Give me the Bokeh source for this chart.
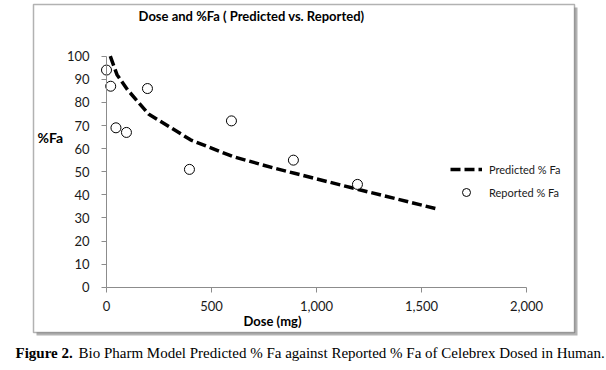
from bokeh.plotting import figure
from bokeh.models import (Range1d, Label, BoxAnnotation, Legend, LegendItem,
                          FixedTicker, NumeralTickFormatter, ColumnDataSource)
from bokeh.embed import file_html
from bokeh.resources import INLINE

# ---- data ----
pred_dose = [18, 50, 100, 200, 400, 600, 800, 900, 1200, 1578]
pred_fa = [100, 92, 85.5, 75, 63.8, 56.6, 51.5, 49.2, 42.3, 33.8]
rep_dose = [0, 20, 45, 95, 195, 395, 595, 890, 1195]
rep_fa = [94, 87, 69, 67, 86, 51, 72, 55, 44.5]
x_ticks = [0, 500, 1000, 1500, 2000]
y_ticks = [0, 10, 20, 30, 40, 50, 60, 70, 80, 90, 100]

W, H = 606, 370
FONT = "Lato"

# pixel layout of the plot area (page px)
X0, XPX = 106.0, 0.21      # x=0 at px 106, px per mg
Y0, YPX = 286.7, 2.31      # y=0 at px 286.7, px per unit


def X(px):
    return (px - X0) / XPX


def Y(py):
    return (Y0 - py) / YPX


p = figure(width=W, height=H, output_backend="svg", toolbar_location=None,
           x_range=Range1d(X(0), X(W)), y_range=Range1d(Y(H), Y(0)),
           min_border=0)
p.outline_line_color = None
p.xgrid.visible = False
p.ygrid.visible = False
p.background_fill_color = "white"
p.border_fill_color = "white"

# chart-area border with shadow
shadow = BoxAnnotation(left=X(36), right=X(577), top=Y(7), bottom=Y(335),
                       fill_color="#9a9a9a", fill_alpha=0.75, line_color=None,
                       level="underlay")
box = BoxAnnotation(left=X(33), right=X(574), top=Y(4), bottom=Y(332),
                    fill_color="white", fill_alpha=1.0, line_color="black",
                    line_width=1.5, level="underlay")
p.add_layout(shadow)
p.add_layout(box)

src_p = ColumnDataSource(dict(x=pred_dose, y=pred_fa))
src_r = ColumnDataSource(dict(x=rep_dose, y=rep_fa))
r_line = p.line("x", "y", source=src_p, line_color="black", line_width=3.5,
                line_dash="10 4")
r_pts = p.scatter("x", "y", source=src_r, marker="circle", size=10,
                  fill_color="white", line_color="black", line_width=1)

for ax in (p.xaxis[0], p.yaxis[0]):
    ax.fixed_location = 0
    ax.axis_line_color = "#8c8c8c"
    ax.major_tick_line_color = "#8c8c8c"
    ax.major_tick_in = 0
    ax.major_tick_out = 5
    ax.minor_tick_line_color = None
    ax.major_label_text_font = FONT
    ax.major_label_text_font_size = "13px"
    ax.major_label_text_color = "#1a1a1a"

p.xaxis.bounds = (0, 2000)
p.yaxis.bounds = (0, 100)
p.xaxis.ticker = FixedTicker(ticks=x_ticks)
p.xaxis.formatter = NumeralTickFormatter(format="0,0")
p.xaxis.major_label_standoff = 9
p.yaxis.ticker = FixedTicker(ticks=y_ticks)
p.yaxis.major_label_standoff = 12

legend = Legend(items=[LegendItem(label="Predicted % Fa", renderers=[r_line]),
                       LegendItem(label="Reported % Fa", renderers=[r_pts])],
                location=(450, 168), glyph_width=32, glyph_height=20,
                label_height=20, spacing=3, padding=0, margin=0,
                label_standoff=7, background_fill_alpha=0,
                border_line_color=None, label_text_font=FONT,
                label_text_font_size="11px", label_text_color="#1a1a1a")
p.add_layout(legend, "center")


def lab(text, px, py, size, bold=False, align="center", font=FONT, color="black"):
    p.add_layout(Label(text=text, x=X(px), y=Y(py),
                       text_font=font, text_font_size=size,
                       text_font_style="bold" if bold else "normal",
                       text_align=align, text_baseline="middle",
                       text_color=color))


lab("Dose and %Fa ( Predicted vs. Reported)", 251, 15, "13px", bold=True)
lab("%Fa", 37, 137, "14px", bold=True, align="left")
lab("Dose (mg)", 272, 320, "13px", bold=True)
lab("Figure 2.", 15, 352, "15px", bold=True, align="left", font="Liberation Serif")
lab("Bio Pharm Model Predicted % Fa against Reported % Fa of Celebrex Dosed in Human.",
    78, 352, "15px", align="left", font="Liberation Serif")

open("out.html", "w").write(file_html(p, INLINE))
